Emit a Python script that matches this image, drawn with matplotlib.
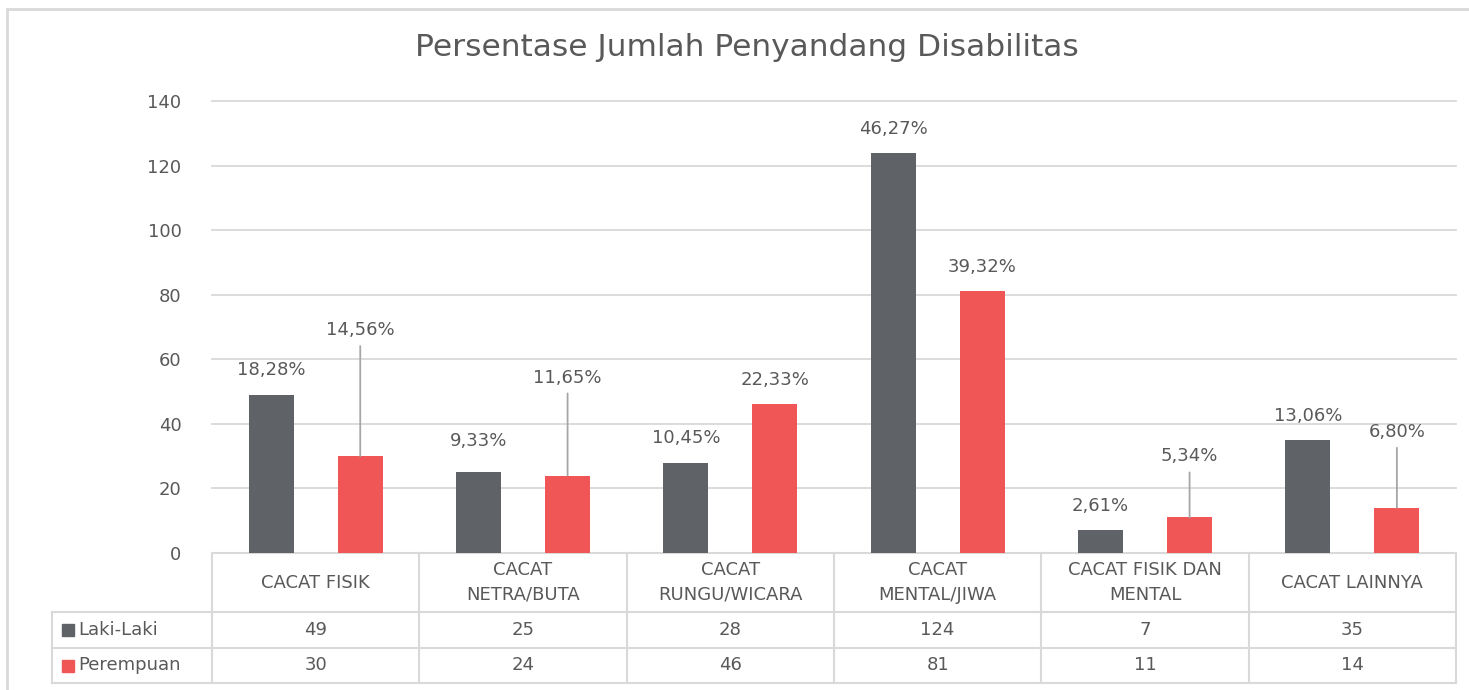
import matplotlib.pyplot as plt
from matplotlib.patches import Rectangle
import numpy as np

categories = ["CACAT FISIK", "CACAT\nNETRA/BUTA", "CACAT\nRUNGU/WICARA",
              "CACAT\nMENTAL/JIWA", "CACAT FISIK DAN\nMENTAL", "CACAT LAINNYA"]
laki = [49, 25, 28, 124, 7, 35]
perempuan = [30, 24, 46, 81, 11, 14]
laki_pct = ["18,28%", "9,33%", "10,45%", "46,27%", "2,61%", "13,06%"]
perempuan_pct = ["14,56%", "11,65%", "22,33%", "39,32%", "5,34%", "6,80%"]
series_names = ["Laki-Laki", "Perempuan"]

# label offsets above the bar top (pixels); red ones with leader lines
laki_off = [25, 31, 25, 24, 24, 24]
perempuan_off = [126, 98, 24, 24, 61, 76]

GRAY = "#5f6367"
RED = "#f05656"
TXT = "#595959"
GRID = "#d9d9d9"

plt.rcParams['font.family'] = ['DejaVu Sans']

fig = plt.figure(figsize=(14.69, 6.90), dpi=100)
W, H = 1469, 690
ax = fig.add_axes([212 / W, (H - 553) / H, 1244 / W, 452 / H])

# outer chart border
fig.patches.append(Rectangle((7 / W, -0.1), 1.2, (H - 9) / H + 0.1, transform=fig.transFigure,
                             fill=False, edgecolor=GRID, linewidth=2))

x = np.arange(len(categories))
bw = 0.217
off = 0.215
b1 = ax.bar(x - off, laki, bw, color=GRAY, zorder=3)
b2 = ax.bar(x + off, perempuan, bw, color=RED, zorder=3)

for xi, v, lab, o in zip(x - off, laki, laki_pct, laki_off):
    ax.annotate(lab, (xi, v), xytext=(0, o), textcoords="offset pixels",
                ha="center", va="center", fontsize=13, color=TXT)
for xi, v, lab, o in zip(x + off, perempuan, perempuan_pct, perempuan_off):
    arrow = None
    if o > 40:
        arrow = dict(arrowstyle="-", color="#a6a6a6", lw=1.3, shrinkA=3, shrinkB=0)
    ax.annotate(lab, (xi, v), xytext=(0, o), textcoords="offset pixels",
                ha="center", va="center", fontsize=13, color=TXT, arrowprops=arrow)

ax.set_xlim(-0.5, len(categories) - 0.5)
ax.set_ylim(0, 140)
ax.set_yticks(range(0, 141, 20))
ax.tick_params(axis="y", length=0, pad=22, labelsize=13, labelcolor=TXT)
ax.set_xticks([])
ax.grid(axis="y", color=GRID, lw=1.3, zorder=0)
for gl in ax.get_ygridlines():
    gl.set_clip_on(False)
for s in ["top", "right", "left"]:
    ax.spines[s].set_visible(False)
ax.spines["bottom"].set_color(GRID)
ax.spines["bottom"].set_linewidth(1.5)

fig.text(747 / W, (H - 48) / H, "Persentase Jumlah Penyandang Disabilitas", fontsize=22.5,
         color=TXT, ha="center", va="center")

# data table under the axis
tr = ax.get_xaxis_transform()
def yf(p):
    return (553 - p) / 452
y_head, y_r1, y_r2 = yf(612), yf(648), yf(683)
x_leg = (52 - 212) / 1244 * len(categories) - 0.5
line_kw = dict(color=GRID, lw=1.5, clip_on=False, transform=tr)
for xb in np.arange(len(categories) + 1) - 0.5:
    ax.plot([xb, xb], [0, y_r2], **line_kw)
for yy in [y_head, y_r1, y_r2]:
    ax.plot([x_leg, len(categories) - 0.5], [yy, yy], **line_kw)
ax.plot([x_leg, x_leg], [y_head, y_r2], **line_kw)

for xi, cat in zip(x, categories):
    ax.text(xi, (0 + y_head) / 2, cat, transform=tr, ha="center", va="center",
            fontsize=13, color=TXT, linespacing=1.45)
for row, (vals, yy0, yy1) in enumerate([(laki, y_head, y_r1), (perempuan, y_r1, y_r2)]):
    ym = (yy0 + yy1) / 2
    for xi, v in zip(x, vals):
        ax.text(xi, ym, str(v), transform=tr, ha="center", va="center", fontsize=13, color=TXT)
    ax.text(x_leg + 0.125, ym, series_names[row], transform=tr, ha="left", va="center",
            fontsize=13, color=TXT)
    ax.plot([x_leg + 0.075], [ym], marker="s", ms=9, color=[GRAY, RED][row],
            transform=tr, clip_on=False)

fig.savefig("out.png", dpi=100)
